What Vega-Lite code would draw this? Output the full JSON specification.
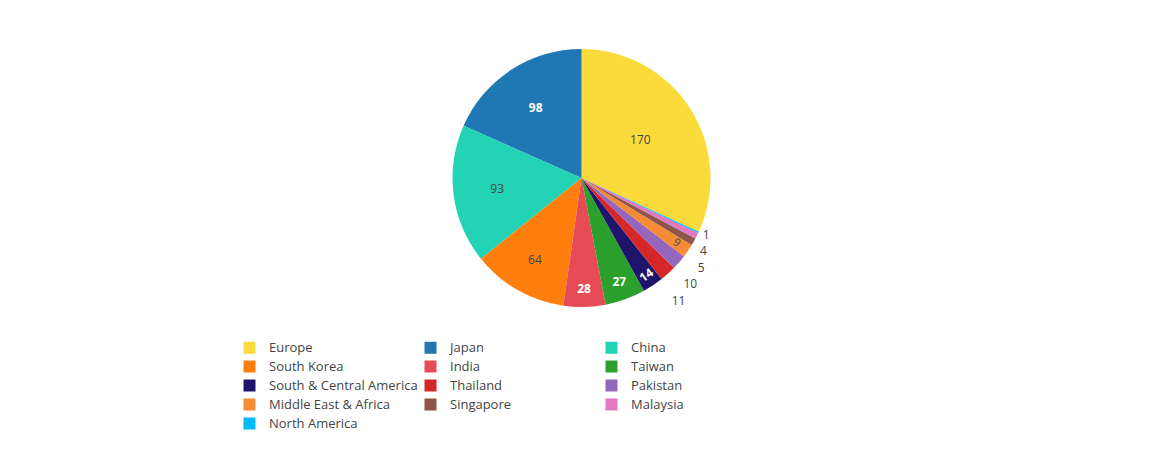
{
  "$schema": "https://vega.github.io/schema/vega-lite/v6.json",
  "width": 1163,
  "height": 356,
  "autosize": {"type": "none"},
  "padding": {"left": 0, "top": 0, "right": 0, "bottom": 94},
  "background": "white",
  "config": {"view": {"stroke": null}, "font": "Open Sans"},
  "data": {
    "values": [
      {"region": "Europe", "value": 170},
      {"region": "Japan", "value": 98},
      {"region": "China", "value": 93},
      {"region": "South Korea", "value": 64},
      {"region": "India", "value": 28},
      {"region": "Taiwan", "value": 27},
      {"region": "South & Central America", "value": 14},
      {"region": "Thailand", "value": 11},
      {"region": "Pakistan", "value": 10},
      {"region": "Middle East & Africa", "value": 9},
      {"region": "Singapore", "value": 5},
      {"region": "Malaysia", "value": 4},
      {"region": "North America", "value": 1}
    ]
  },
  "transform": [
    {"calculate": "datum.region === 'Europe' ? 0 : datum.value", "as": "k"},
    {"stack": "value", "groupby": [], "sort": [{"field": "k", "order": "ascending"}], "as": ["t0", "t1"]},
    {"calculate": "(datum.t0 + datum.t1) / 2", "as": "tm"}
  ],
  "layer": [
    {
      "mark": {"type": "arc", "outerRadius": 129, "strokeWidth": 0},
      "encoding": {
        "theta": {"field": "t0", "type": "quantitative", "scale": {"domain": [0, 534]}},
        "theta2": {"field": "t1"},
        "color": {
          "field": "region",
          "type": "nominal",
          "scale": {
            "domain": ["Europe", "Japan", "China", "South Korea", "India", "Taiwan", "South & Central America", "Thailand", "Pakistan", "Middle East & Africa", "Singapore", "Malaysia", "North America"],
            "range": ["#FBDB3B", "#1F77B4", "#22D3B5", "#FF7F0E", "#E64B56", "#2CA02C", "#1F146B", "#D62728", "#9467BD", "#F58B34", "#8C564B", "#E377C2", "#00BBF9"]
          },
          "legend": {
            "title": null,
            "orient": "none",
            "direction": "horizontal",
            "legendX": 243,
            "legendY": 341,
            "columns": 3,
            "gridAlign": "all",
            "columnPadding": 6,
            "rowPadding": 5,
            "symbolType": "square",
            "symbolSize": 144,
            "symbolStrokeWidth": 0,
            "symbolOpacity": 1,
            "labelOffset": 13,
            "labelFont": "Open Sans",
            "labelFontSize": 13,
            "labelColor": "#444444",
            "labelLimit": 300
          }
        }
      }
    },
    {
      "transform": [{"filter": "datum.region === 'Europe'"}],
      "mark": {"type": "text", "radius": 70, "font": "Open Sans", "fontSize": 12, "color": "#444444"},
      "encoding": {"theta": {"field": "tm", "type": "quantitative"}, "text": {"field": "value"}}
    },
    {
      "transform": [{"filter": "datum.region === 'Japan'"}],
      "mark": {"type": "text", "radius": 84, "font": "Open Sans", "fontSize": 12, "fontWeight": "bold", "color": "#ffffff"},
      "encoding": {"theta": {"field": "tm", "type": "quantitative"}, "text": {"field": "value"}}
    },
    {
      "transform": [{"filter": "datum.region === 'China'"}],
      "mark": {"type": "text", "radius": 85, "font": "Open Sans", "fontSize": 12, "color": "#444444"},
      "encoding": {"theta": {"field": "tm", "type": "quantitative"}, "text": {"field": "value"}}
    },
    {
      "transform": [{"filter": "datum.region === 'South Korea'"}],
      "mark": {"type": "text", "radius": 94, "font": "Open Sans", "fontSize": 12, "color": "#444444"},
      "encoding": {"theta": {"field": "tm", "type": "quantitative"}, "text": {"field": "value"}}
    },
    {
      "transform": [{"filter": "datum.region === 'India' || datum.region === 'Taiwan'"}],
      "mark": {"type": "text", "radius": 111, "font": "Open Sans", "fontSize": 12, "fontWeight": "bold", "color": "#ffffff"},
      "encoding": {"theta": {"field": "tm", "type": "quantitative"}, "text": {"field": "value"}}
    },
    {
      "transform": [{"filter": "datum.region === 'South & Central America'"}],
      "mark": {"type": "text", "radius": 117, "font": "Open Sans", "fontSize": 12, "fontWeight": "bold", "color": "#ffffff", "angle": 325},
      "encoding": {"theta": {"field": "tm", "type": "quantitative"}, "text": {"field": "value"}}
    },
    {
      "transform": [{"filter": "datum.region === 'Middle East & Africa'"}],
      "mark": {"type": "text", "radius": 115, "font": "Open Sans", "fontSize": 11, "color": "#444444", "angle": 34},
      "encoding": {"theta": {"field": "tm", "type": "quantitative"}, "text": {"field": "value"}}
    },
    {
      "transform": [{"filter": "datum.region === 'North America'"}],
      "mark": {"type": "text", "radius": 136, "dx": -2, "dy": 0, "align": "left", "font": "Open Sans", "fontSize": 12, "color": "#444444"},
      "encoding": {"theta": {"field": "tm", "type": "quantitative"}, "text": {"field": "value"}}
    },
    {
      "transform": [{"filter": "datum.region === 'Malaysia'"}],
      "mark": {"type": "text", "radius": 136, "dx": -3, "dy": 12, "align": "left", "font": "Open Sans", "fontSize": 12, "color": "#444444"},
      "encoding": {"theta": {"field": "tm", "type": "quantitative"}, "text": {"field": "value"}}
    },
    {
      "transform": [{"filter": "datum.region === 'Singapore'"}],
      "mark": {"type": "text", "radius": 136, "dx": -2, "dy": 23, "align": "left", "font": "Open Sans", "fontSize": 12, "color": "#444444"},
      "encoding": {"theta": {"field": "tm", "type": "quantitative"}, "text": {"field": "value"}}
    },
    {
      "transform": [{"filter": "datum.region === 'Pakistan'"}],
      "mark": {"type": "text", "radius": 136, "dx": -1, "dy": 17, "align": "left", "font": "Open Sans", "fontSize": 12, "color": "#444444"},
      "encoding": {"theta": {"field": "tm", "type": "quantitative"}, "text": {"field": "value"}}
    },
    {
      "transform": [{"filter": "datum.region === 'Thailand'"}],
      "mark": {"type": "text", "radius": 136, "dx": -1, "dy": 22, "align": "left", "font": "Open Sans", "fontSize": 12, "color": "#444444"},
      "encoding": {"theta": {"field": "tm", "type": "quantitative"}, "text": {"field": "value"}}
    }
  ]
}
